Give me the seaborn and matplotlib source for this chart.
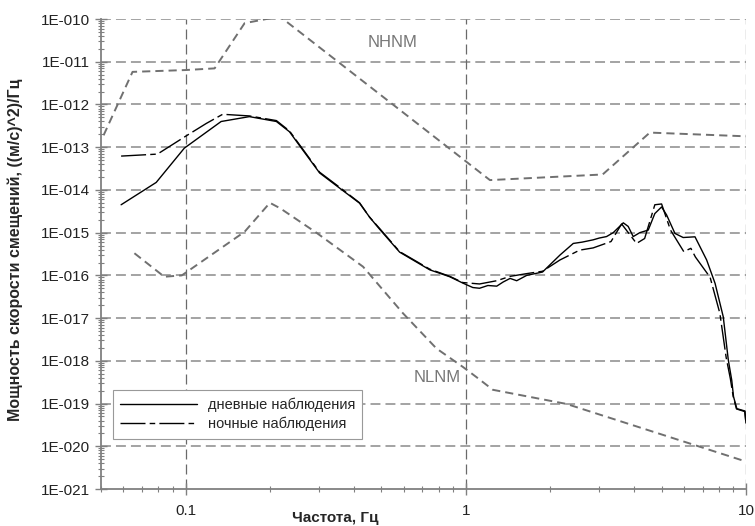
import numpy as np
import pandas as pd
import matplotlib
matplotlib.use("Agg")
import matplotlib.pyplot as plt
import matplotlib.ticker as mticker
import seaborn as sns

# Данные
nhnm_f = [0.051, 0.0647, 0.1, 0.127, 0.1625, 0.217, 1.22, 3.08, 4.54, 10.0]
nhnm_p = [1.9e-13, 5.8e-12, 6.4e-12, 7e-12, 8e-11, 1.15e-10, 1.7e-14, 2.3e-14, 2.2e-13, 1.8e-13]

nlnm_f = [0.0657, 0.084, 0.097, 0.1625, 0.2, 0.218, 0.293, 0.43, 0.597, 0.786, 0.977,
          1.09, 1.25, 2.29, 10.0]
nlnm_p = [3.3e-16, 9.3e-17, 1e-16, 1.05e-15, 5e-15, 3.7e-15, 1e-15, 1.6e-16, 1.3e-17,
          1.95e-18, 7.2e-19, 4.2e-19, 2.1e-19, 9.8e-20, 4.4e-21]

day_f = [0.0589, 0.0786, 0.099, 0.134, 0.169, 0.211, 0.235, 0.255, 0.301, 0.355, 0.418,
         0.454, 0.493, 0.581, 0.744, 0.877, 0.977, 1.06, 1.12, 1.2, 1.29, 1.36, 1.44, 1.52,
         1.65, 1.88, 2.17, 2.42, 2.6, 2.85, 3.0, 3.18, 3.36, 3.65, 3.8, 3.96, 4.18, 4.48,
         4.73, 5.0, 5.21, 5.58, 5.97, 6.58, 7.24, 7.76, 8.3, 8.65, 8.9, 9.03, 9.28, 9.92, 10.0]
day_p = [4.5e-15, 1.5e-14, 9.5e-14, 4e-13, 5.2e-13, 4e-13, 2.3e-13, 1.1e-13, 2.5e-14,
         1.1e-14, 4.9e-15, 2.3e-15, 1.2e-15, 3.5e-16, 1.35e-16, 9.3e-17, 6.6e-17, 5.2e-17,
         5e-17, 5.8e-17, 5.6e-17, 7e-17, 8.5e-17, 7.5e-17, 1e-16, 1.2e-16, 3e-16, 5.6e-16,
         6e-16, 6.8e-16, 7.5e-16, 8.1e-16, 1e-15, 1.7e-15, 1.4e-15, 8.1e-16, 1e-15, 1.15e-15,
         2.8e-15, 4e-15, 2.6e-15, 9.6e-16, 7.7e-16, 8e-16, 2.3e-16, 6.5e-17, 1.07e-17,
         1.05e-18, 3.5e-19, 1.45e-19, 7.6e-20, 6.7e-20, 3.5e-20]

night_f = [0.0589, 0.0794, 0.1, 0.1186, 0.1357, 0.169, 0.211, 0.235, 0.255, 0.301, 0.355,
           0.418, 0.454, 0.493, 0.581, 0.744, 0.877, 0.977, 1.12, 1.29, 1.44, 1.65, 1.88,
           2.17, 2.55, 2.85, 3.3, 3.6, 4.07, 4.35, 4.73, 5.0, 5.38, 6.0, 6.36, 6.6, 7.45,
           8.07, 8.5, 8.8, 9.0, 9.25, 9.9, 10.0]
night_p = [6.2e-14, 6.9e-14, 1.8e-13, 3.6e-13, 5.9e-13, 5.4e-13, 4.2e-13, 2.4e-13,
           1.15e-13, 2.6e-14, 1.15e-14, 5e-15, 2.3e-15, 1.25e-15, 3.6e-16, 1.4e-16, 9.5e-17,
           6.8e-17, 6.3e-17, 7.5e-17, 9.5e-17, 1.1e-16, 1.25e-16, 2.3e-16, 3.9e-16, 4.4e-16,
           6.2e-16, 1.6e-15, 5.6e-16, 7.3e-16, 4.5e-15, 4.7e-15, 1.15e-15, 3.6e-16, 4.3e-16,
           2.7e-16, 9e-17, 1.3e-17, 1.2e-18, 3.8e-19, 1.5e-19, 7.5e-20, 6.5e-20, 3.5e-20]

y_decades = list(range(-21, -9))
label_day = "дневные наблюдения"
label_night = "ночные наблюдения"

sns.set_style("ticks")
plt.rcParams["font.family"] = ["Liberation Sans", "DejaVu Sans"]

fig = plt.figure(figsize=(7.55, 5.26), dpi=100)
ax = fig.add_axes([0.134, 0.0703, 0.854, 0.8935])

grey = "#707070"
sns.lineplot(x=nhnm_f, y=nhnm_p, ax=ax, color=grey, lw=1.4,
             linestyle=(0, (4.2, 2.6)), estimator=None, sort=False)
sns.lineplot(x=nlnm_f, y=nlnm_p, ax=ax, color=grey, lw=1.4,
             linestyle=(0, (4.2, 2.6)), estimator=None, sort=False)
sns.lineplot(x=day_f, y=day_p, ax=ax, color="black", lw=1.0,
             estimator=None, sort=False, label=label_day)
sns.lineplot(x=night_f, y=night_p, ax=ax, color="black", lw=1.0,
             linestyle=(0, (18, 3, 4, 3)), estimator=None, sort=False, label=label_night)

ax.set_xscale("log")
ax.set_yscale("log")
ax.set_xlim(0.05, 10)
ax.set_ylim(1e-21, 1e-10)

# сетка
for d in y_decades[1:]:
    ax.axhline(10.0 ** d, color="#8a8a8a", lw=1.1, linestyle=(0, (6.5, 3.3)), zorder=0)
for xv in [0.1, 1, 10]:
    ax.axvline(xv, color="#6a6a6a", lw=0.9, linestyle=(0, (8, 4)), zorder=0)

for s in ["top", "right"]:
    ax.spines[s].set_visible(False)
for s in ["left", "bottom"]:
    ax.spines[s].set_color("#808080")
    ax.spines[s].set_linewidth(1.3)

ax.xaxis.set_major_locator(mticker.FixedLocator([0.1, 1, 10]))
ax.xaxis.set_major_formatter(mticker.FixedFormatter(["0.1", "1", "10"]))
ax.xaxis.set_minor_locator(mticker.LogLocator(base=10, subs=np.arange(2, 10)))
ax.xaxis.set_minor_formatter(mticker.NullFormatter())
ax.yaxis.set_major_locator(mticker.FixedLocator([10.0 ** d for d in y_decades]))
ax.yaxis.set_major_formatter(mticker.FixedFormatter(["1E-%03d" % -d for d in y_decades]))
ax.yaxis.set_minor_locator(mticker.LogLocator(base=10, subs=np.arange(2, 10), numticks=20))
ax.yaxis.set_minor_formatter(mticker.NullFormatter())

ax.tick_params(which="major", direction="inout", length=8, width=1.0, color="#808080",
               labelsize=11, labelcolor="#222222")
ax.tick_params(axis="x", which="major", pad=7)
ax.tick_params(axis="y", which="major", pad=4)
ax.tick_params(which="minor", direction="inout", length=4, width=0.8, color="#808080")

ax.set_xlabel("Частота, Гц", fontsize=11, fontweight="bold", va="top")
ax.xaxis.set_label_coords(0.363, -0.047)
ax.set_ylabel("Мощность скорости смещений, ((м/с)^2)/Гц", fontsize=11.5, fontweight="bold")
ax.yaxis.set_label_coords(-0.122, 0.51)

ax.text(0.55, 2.75e-11, "NHNM", color="#777777", fontsize=12, ha="center", va="center")
ax.text(0.79, 4e-19, "NLNM", color="#777777", fontsize=12, ha="center", va="center")

leg = ax.legend(loc="upper left", bbox_to_anchor=(0.018, 0.2106), fontsize=10.5,
                frameon=True, fancybox=False, framealpha=1, edgecolor="#999999",
                handlelength=5.3, handletextpad=0.7, borderpad=0.5, labelspacing=0.35,
                borderaxespad=0)
leg.get_frame().set_linewidth(0.8)

fig.savefig("out.png", dpi=100)
plt.close(fig)
